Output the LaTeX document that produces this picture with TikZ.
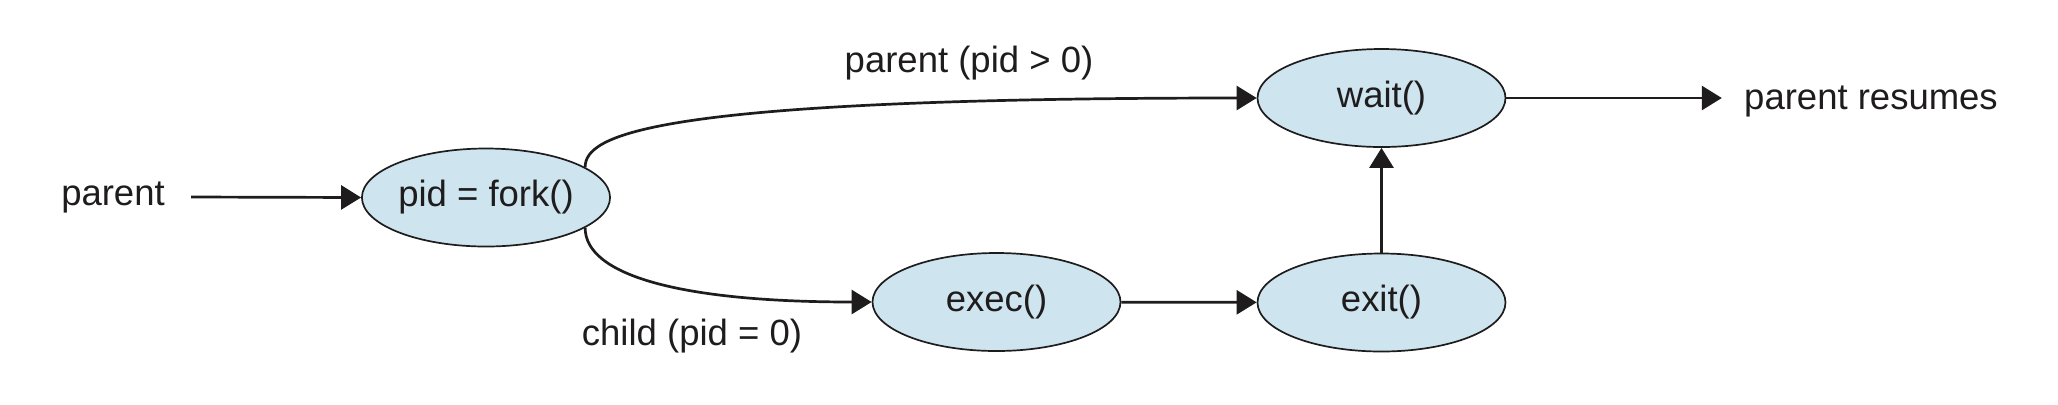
\documentclass[tikz,border=0pt]{standalone}
\usepackage{fontspec}
\setmainfont{Liberation Sans}
\usetikzlibrary{arrows.meta,shapes.geometric}
\definecolor{procfill}{RGB}{206,228,238}
\definecolor{ink}{RGB}{30,28,29}
\tikzset{
  proc/.style={ellipse,draw=ink,line width=0.85pt,fill=procfill,
    minimum width=124pt,minimum height=49pt,inner sep=0pt,
    font=\fontsize{18.25}{22}\selectfont,text=ink},
  lbl/.style={inner sep=0pt,font=\fontsize{18.25}{22}\selectfont,text=ink},
  arr/.style={draw=ink,line width=1.35pt,
    -{Triangle[length=10pt,width=12pt]}}
}
\begin{document}
\begin{tikzpicture}[x=0.5pt,y=-0.5pt]
      \useasboundingbox (0,0) rectangle (2058,404);
      \draw
        (486,197.5) node[proc] (fork){pid = fork()}
        (1381.5,98) node[proc] (wait){wait()}
        (996.5,302) node[proc] (exec){exec()}
        (1381.5,302.5) node[proc] (exit){exit()}
        (113,197) node[lbl,inner xsep=13pt] (parent){parent}
        (1871,109) node[lbl,anchor=base,inner xsep=11pt] (resumes){parent resumes}
        (969,72) node[lbl,anchor=base] (lpos){parent (pid > 0)}
        (692,345) node[lbl,anchor=base] (lzero){child (pid = 0)};
      \begin{scope}[arr]
        \draw (parent.east) to (fork.west);
        \draw (fork.17) .. controls +(0,-32) and +(-607,0) .. (wait.west);
        \draw (fork.-17) .. controls +(0,47) and +(-193,0) .. (exec.west);
        \draw (exec) to (exit);
        \draw (exit) to (wait);
        \draw (wait.east) to (resumes.west |- wait.east);
      \end{scope}
    \end{tikzpicture}
\end{document}
